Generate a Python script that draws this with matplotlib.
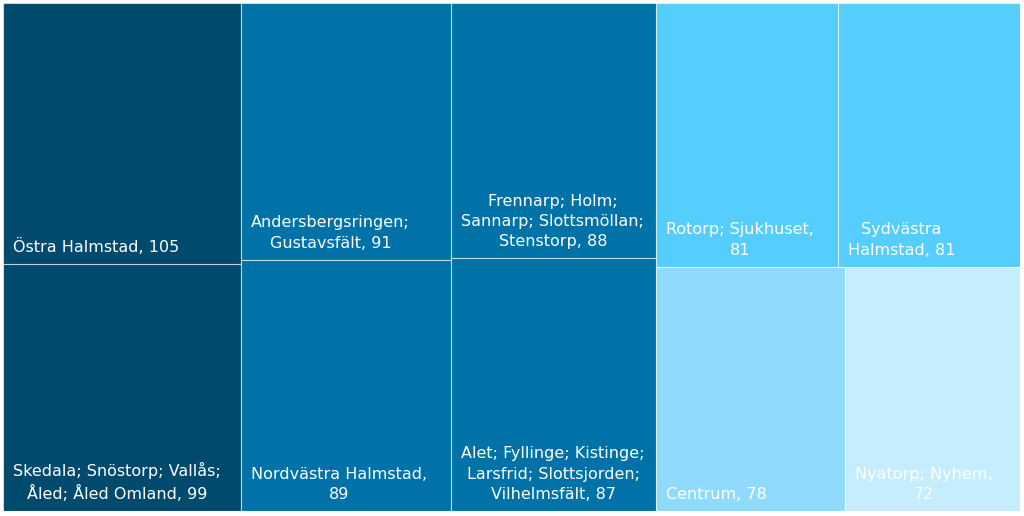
import matplotlib.pyplot as plt
from matplotlib.patches import Rectangle

# treemap data: areas in Halmstad and their values
labels = [
    "Östra Halmstad, 105",
    "Skedala; Snöstorp; Vallås;\nÅled; Åled Omland, 99",
    "Andersbergsringen;\nGustavsfält, 91",
    "Nordvästra Halmstad,\n89",
    "Frennarp; Holm;\nSannarp; Slottsmöllan;\nStenstorp, 88",
    "Alet; Fyllinge; Kistinge;\nLarsfrid; Slottsjorden;\nVilhelmsfält, 87",
    "Rotorp; Sjukhuset,\n81",
    "Sydvästra\nHalmstad, 81",
    "Centrum, 78",
    "Nyatorp; Nyhem,\n72",
]
values = [105, 99, 91, 89, 88, 87, 81, 81, 78, 72]
colors = ["#004a6e", "#004a6e", "#0072a7", "#0072a7", "#0072a7", "#0072a7",
          "#55cdfd", "#55cdfd", "#8fdafd", "#c6edfd"]


def worst(row, w):
    s = sum(row)
    return max(max(w * w * r / (s * s), s * s / (w * w * r)) for r in row)


def squarify(sizes, x, y, dx, dy):
    # classic squarified treemap, y measured from top
    rects = []
    sizes = list(sizes)
    while sizes:
        w = min(dx, dy)
        row = [sizes.pop(0)]
        while sizes and worst(row + [sizes[0]], w) <= worst(row, w):
            row.append(sizes.pop(0))
        s = sum(row)
        if dx >= dy:
            cw = s / dy
            yy = y
            for r in row:
                h = r / cw
                rects.append((x, yy, cw, h))
                yy += h
            x += cw
            dx -= cw
        else:
            ch = s / dx
            xx = x
            for r in row:
                ww = r / ch
                rects.append((xx, y, ww, ch))
                xx += ww
            y += ch
            dy -= ch
    return rects


W, H = 1017.0, 508.0
total = sum(values)
scaled = [v * W * H / total for v in values]
rects = squarify(scaled, 0, 0, W, H)

fig = plt.figure(figsize=(10.24, 5.16), dpi=100)
ax = fig.add_axes([3 / 1024, 5 / 516, 1017 / 1024, 508 / 516])
ax.set_xlim(0, W)
ax.set_ylim(H, 0)
ax.axis("off")

for (x, y, w, h), lab, c in zip(rects, labels, colors):
    ax.add_patch(Rectangle((x, y), w, h, facecolor=c,
                           edgecolor=(1, 1, 1, 0.6), linewidth=0.8))
    ax.text(x + 10, y + h - 9, lab, color="white", fontsize=11.5,
            family="DejaVu Sans", ha="left", va="bottom",
            multialignment="center", linespacing=1.45)

fig.savefig("out.png", dpi=100)
